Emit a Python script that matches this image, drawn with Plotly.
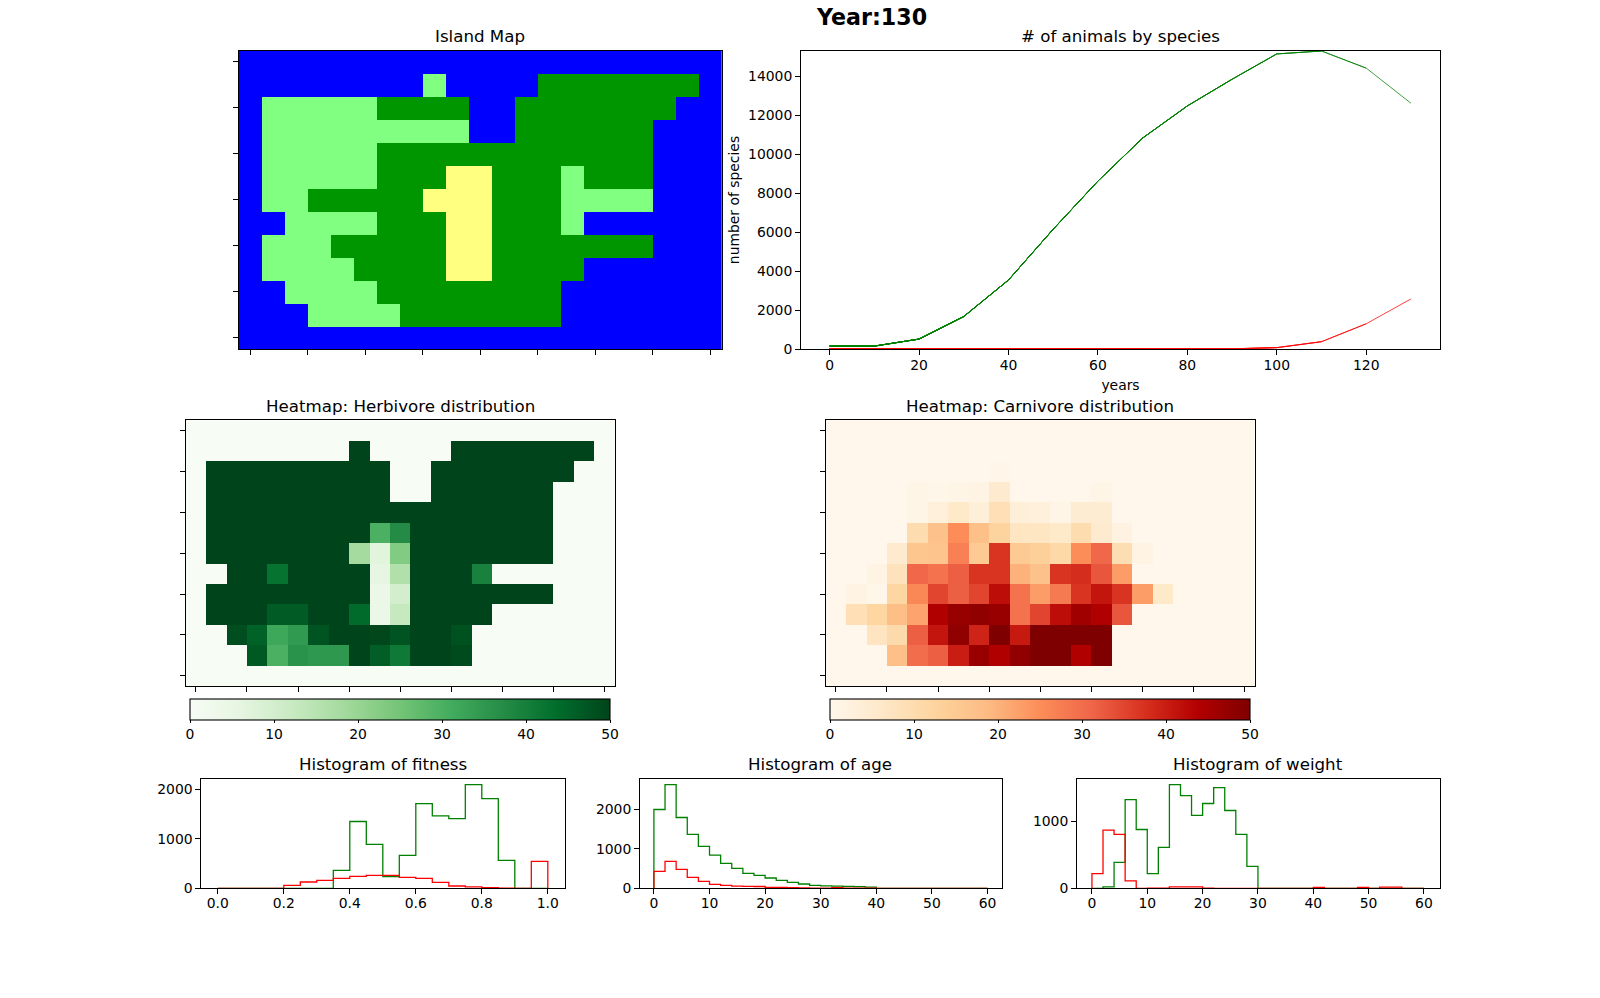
import numpy as np
import plotly.graph_objects as go

W, H = 1600, 998
FONT = "DejaVu Sans"
MT, MB = 48, 68

# ---- data ----
island_rows = [
    "OOOOOOOOOOOOOOOOOOOOO",
    "OOOOOOOOSOOOOJJJJJJJO",
    "OSSSSSJJJJOOJJJJJJJOO",
    "OSSSSSSSSSOOJJJJJJOOO",
    "OSSSSSJJJJJJJJJJJJOOO",
    "OSSSSSJJJMMJJJSJJJOOO",
    "OSSJJJJJMMMJJJSSSSOOO",
    "OOSSSSJJJMMJJJSOOOOOO",
    "OSSSJJJJJMMJJJJJJJOOO",
    "OSSSSJJJJMMJJJJOOOOOO",
    "OOSSSSJJJJJJJJOOOOOOO",
    "OOOSSSSJJJJJJJOOOOOOO",
    "OOOOOOOOOOOOOOOOOOOOO",
]
landscape_codes = {"O": 0, "J": 1, "S": 2, "M": 3}

herbivore_density = [
    [0]*21,
    [0,0,0,0,0,0,0,0,50,0,0,0,0,50,50,50,50,50,50,50,0],
    [0,50,50,50,50,50,50,50,50,50,0,0,50,50,50,50,50,50,50,0,0],
    [0,50,50,50,50,50,50,50,50,50,0,0,50,50,50,50,50,50,0,0,0],
    [0,50,50,50,50,50,50,50,50,50,50,50,50,50,50,50,50,50,0,0,0],
    [0,50,50,50,50,50,50,50,50,30,37.5,50,50,50,50,50,50,50,0,0,0],
    [0,50,50,50,50,50,50,50,18,7,23,50,50,50,50,50,50,50,0,0,0],
    [0,0,50,50,42.5,50,50,50,50,5.5,16,50,50,50,39.5,0,0,0,0,0,0],
    [0,50,50,50,50,50,50,50,50,4,10,50,50,50,50,50,50,50,0,0,0],
    [0,50,50,50,46.5,46.5,50,50,44,4,12.5,50,50,50,50,0,0,0,0,0,0],
    [0,0,48.5,45.5,32,34.5,47.5,50,50,49.5,47.5,50,50,48,0,0,0,0,0,0,0],
    [0,0,0,47,30,36,35,35,50,46,41,50,50,49,0,0,0,0,0,0,0],
    [0]*21,
]

carnivore_density = [
    [0]*21,
    [0]*21,
    [0,0,0,0,0,0,0,0,0.7,0,0,0,0,0,0,0,0,0,0,0,0],
    [0,0,0,0,1,0.3,1,1.5,5,0,0,0,0,1,0,0,0,0,0,0,0],
    [0,0,0,0,1,3,6,3.5,9,3.5,3,1,4.5,4.5,0,0,0,0,0,0,0],
    [0,0,0,0,10,17,25,17.5,12.5,7,7,6,10,5,2,0,0,0,0,0,0],
    [0,0,0,5,16,16.5,27,15,37,15,13.5,11,25,31,9.5,1.5,0,0,0,0,0],
    [0,0,1.5,8,31,29,32,37,37,20,17,37,38,33,23,0,0,0,0,0,0],
    [0,1.5,0.3,12,26,35,32,35,42,29,23,28,37,41,37,23,6,0,0,0,0],
    [0,9,12,18,22,44,47,48,47,29,35,42,46,44,33,0,0,0,0,0,0],
    [0,0,7.5,10.5,32,41,48,39,50,40.5,50,50,50,50,0,0,0,0,0,0,0],
    [0,0,0,17.5,30,32,40,47,44,48,50,50,44,50,0,0,0,0,0,0,0],
    [0]*21,
]

years = [0,10,20,30,40,50,60,70,80,90,100,110,120,130]
herbivores = [150,150,510,1669,3542,6150,8620,10830,12480,13850,15150,15300,14420,12620]
carnivores = [0,0,0,0,0,0,0,0,0,10,70,375,1295,2570]

fitness_edges = [round(0.05*i, 2) for i in range(21)]
fitness_herb = [0,0,0,0,0,0,0,363,1353,888,236,666,1716,1467,1413,2100,1817,565,0,0]
fitness_carn = [0,0,0,0,60,128,161,202,242,262,262,222,202,121,47,27,13,3,0,545]

age_edges = list(range(0, 62, 2))
age_herb = [1995,2627,1793,1364,1061,842,632,505,379,328,261,202,152,109,75,59,55,50,40,30,0,0,0,0,0,0,0,0,0,0]
age_carn = [429,682,480,278,177,100,75,55,50,45,25,20,15,8,5,3,15,5,3,5,0,0,0,0,0,0,0,0,0,0]

weight_edges = list(range(0, 62, 2))
weight_herb = [0,20,388,1328,880,219,612,1552,1388,1090,1269,1507,1164,806,328,0,0,0,0,0,0,0,0,0,0,0,0,0,0,0]
weight_carn = [219,871,806,110,0,3,3,20,20,20,3,0,0,0,0,0,0,0,0,0,15,0,0,0,12,0,18,18,0,0]

GREENS = ["#f7fcf5","#e5f5e0","#c7e9c0","#a1d99b","#74c476","#41ab5d","#238b45","#006d2c","#00441b"]
ORRD = ["#fff7ec","#fee8c8","#fdd49e","#fdbb84","#fc8d59","#ef6548","#d7301f","#b30000","#7f0000"]
ISLAND_COLORS = ["#0000ff", "#009600", "#80ff80", "#ffff80"]


def fx(px):
    return px / W


def fy(py):
    return 1 - (py - MT) / (H - MT - MB)


def ramp(colors):
    n = len(colors) - 1
    return [[i / n, c] for i, c in enumerate(colors)]


LW = 1.1
TICK = dict(ticks="outside", ticklen=4.9, tickwidth=LW, tickcolor="black",
            showline=True, mirror=True, linecolor="black", linewidth=LW,
            showgrid=False, zeroline=False,
            tickfont=dict(family=FONT, size=13.9, color="black"))

fig = go.Figure()
layout = {}


def set_axes(i, box, xcfg, ycfg):
    left, top, right, bottom = box
    sx = "" if i == 1 else str(i)
    layout["xaxis" + sx] = dict(domain=[fx(left), fx(right)], anchor="y" + sx, **TICK, **xcfg)
    layout["yaxis" + sx] = dict(domain=[fy(bottom), fy(top)], anchor="x" + sx, **TICK, **ycfg)
    return "x" + sx, "y" + sx


map_x = dict(range=[-0.5, 20.5], tickvals=[i * 2.5 for i in range(9)], showticklabels=False)
map_y = dict(range=[12.5, -0.5], tickvals=list(range(0, 13, 2)), showticklabels=False)

# Island map
xa, ya = set_axes(1, (238.8, 50.5, 721.8, 349), map_x, map_y)
island_z = [[landscape_codes[c] for c in row] for row in island_rows]
island_scale = []
for i, c in enumerate(ISLAND_COLORS):
    island_scale += [[i / 4, c], [(i + 1) / 4, c]]
fig.add_trace(go.Heatmap(z=island_z, zmin=-0.5, zmax=3.5, colorscale=island_scale,
                         showscale=False, xaxis=xa, yaxis=ya))

# Population lines: redrawn once per logged year, so older segments overlap
xa, ya = set_axes(2, (801, 51, 1440, 349),
                  dict(range=[-6.4, 136.5], tickvals=list(range(0, 121, 20)), ticklabelstandoff=-2,
                       title=dict(text="years", standoff=8,
                                  font=dict(family=FONT, size=13.9, color="black"))),
                  dict(range=[0, 15300], tickvals=list(range(0, 14001, 2000)), tickformat="d",
                       title=dict(text="number of species", standoff=5,
                                  font=dict(family=FONT, size=13.9, color="black"))))
for end in range(2, len(years) + 1):
    fig.add_trace(go.Scatter(x=years[:end], y=herbivores[:end], mode="lines",
                             line=dict(color="#008000", width=0.75), xaxis=xa, yaxis=ya,
                             showlegend=False))
    fig.add_trace(go.Scatter(x=years[:end], y=carnivores[:end], mode="lines",
                             line=dict(color="#ff0000", width=0.75), xaxis=xa, yaxis=ya,
                             showlegend=False))

# Density heatmaps
for idx, (z, colors, box, cb_left) in enumerate([
    (herbivore_density, GREENS, (185.7, 420.3, 614.7, 686), 190),
    (carnivore_density, ORRD, (825.7, 420.3, 1254.7, 686), 830),
]):
    xa, ya = set_axes(3 + idx, box, map_x, map_y)
    fig.add_trace(go.Heatmap(
        z=z, zmin=0, zmax=50, colorscale=ramp(colors), xaxis=xa, yaxis=ya,
        colorbar=dict(orientation="h", x=fx(cb_left), xanchor="left", y=fy(698.7), yanchor="top",
                      lenmode="pixels", len=419.5, thicknessmode="pixels", thickness=20.6,
                      xpad=0, ypad=0, outlinecolor="black", outlinewidth=LW,
                      ticks="outside", ticklen=2.5, tickwidth=LW, tickcolor="black",
                      tickvals=[0, 10, 20, 30, 40, 50],
                      tickfont=dict(family=FONT, size=13.9, color="black"))))


def step_xy(edges, counts):
    return [edges[0]] + list(edges), [0] + list(counts) + [0]


hists = [
    ((201.3, 779.3, 565.3, 888.3), fitness_edges, fitness_herb, fitness_carn,
     dict(range=[-0.05, 1.053], tickvals=[0, 0.2, 0.4, 0.6, 0.8, 1.0], ticklabelstandoff=-3,
          ticktext=["0.0", "0.2", "0.4", "0.6", "0.8", "1.0"]),
     dict(range=[0, 2208], tickvals=[0, 1000, 2000], tickformat="d")),
    ((640, 779.3, 1002, 888.3), age_edges, age_herb, age_carn,
     dict(range=[-2.5, 62.6], tickvals=list(range(0, 61, 10)), ticklabelstandoff=-3),
     dict(range=[0, 2760], tickvals=[0, 1000, 2000], tickformat="d")),
    ((1077, 779.3, 1440, 888.3), weight_edges, weight_herb, weight_carn,
     dict(range=[-2.7, 62.9], tickvals=list(range(0, 61, 10)), ticklabelstandoff=-3),
     dict(range=[0, 1631], tickvals=[0, 1000], tickformat="d")),
]
for i, (box, edges, herb, carn, xc, yc) in enumerate(hists):
    xa, ya = set_axes(5 + i, box, xc, yc)
    for counts, col in ((herb, "#008000"), (carn, "#ff0000")):
        sx, sy = step_xy(edges, counts)
        fig.add_trace(go.Scatter(x=sx, y=sy, mode="lines", line=dict(color=col, width=1.3, shape="hv"),
                                 xaxis=xa, yaxis=ya, showlegend=False))

titles = [
    ("Island Map", 479.8, 36.7),
    ("# of animals by species", 1120, 36.7),
    ("Heatmap: Herbivore distribution", 400.2, 406),
    ("Heatmap: Carnivore distribution", 1040.2, 406),
    ("Histogram of fitness", 382.8, 764.5),
    ("Histogram of age", 820.2, 764.5),
    ("Histogram of weight", 1257.7, 764.5),
]
annotations = [dict(text=t, x=fx(x), y=fy(y), xref="paper", yref="paper", xanchor="center",
                    yanchor="middle", showarrow=False,
                    font=dict(family=FONT, size=16.67, color="black")) for t, x, y in titles]

fig.update_layout(
    width=W, height=H, autosize=False,
    margin=dict(l=0, r=0, t=MT, b=MB),
    paper_bgcolor="white", plot_bgcolor="white",
    showlegend=False,
    title=dict(text="<b>Year:130</b>", x=fx(872), y=1 - 17.5 / H, xanchor="center", yanchor="middle",
               font=dict(family=FONT, size=22.2, color="black")),
    annotations=annotations,
    **layout,
)
fig.write_html("out.html", config={"displayModeBar": False},
               post_script="document.body.style.margin='0';document.documentElement.style.overflow='hidden';")
